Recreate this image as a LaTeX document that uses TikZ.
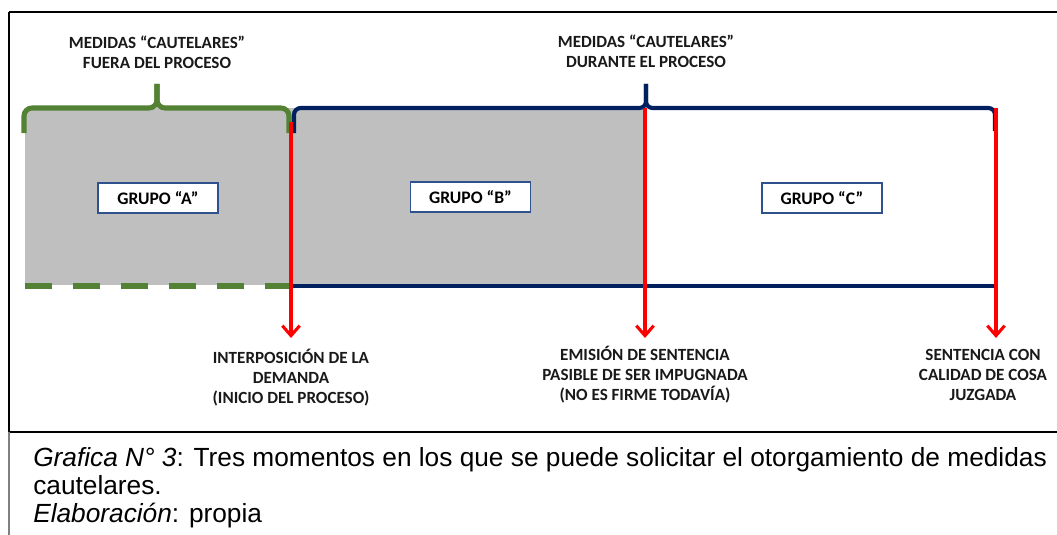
\documentclass[tikz,border=0pt]{standalone}
\usepackage{fontspec}
\setmainfont{Liberation Sans}
\newfontfamily\calib{Carlito}
\usetikzlibrary{arrows.meta}
\definecolor{brgreen}{RGB}{84,130,53}
\definecolor{brnavy}{RGB}{0,32,96}
\definecolor{boxnavy}{RGB}{47,82,143}
\definecolor{fillgray}{RGB}{191,191,191}
\definecolor{redline}{RGB}{255,0,0}
\begin{document}
\begin{tikzpicture}[x=0.75pt,y=-0.75pt,
  lbl/.style={font=\calib\bfseries\fontsize{12.8}{15}\selectfont, align=center, text=black!90, inner sep=0},
  grp/.style={draw=boxnavy, line width=0.9pt, fill=white, minimum width=90pt, minimum height=22.5pt, font=\calib\bfseries\fontsize{13.2}{14}\selectfont, inner sep=0},
  marker/.style={draw=redline, line width=2.3pt, -{Straight Barb[length=7.5pt,width=13pt]}},
  brg/.style={draw=brgreen, line width=3.8pt, rounded corners=6pt},
  brn/.style={draw=brnavy, line width=3.1pt, rounded corners=5pt},
  captxt/.style={anchor=base west, font=\fontsize{19.7}{22}\selectfont, inner sep=0}]

\useasboundingbox (0,0) rectangle (1057,535);
\fill[white] (0,0) rectangle (1057,535);

% frame
\draw[line width=1.1pt] (9,12) -- (1057,12);
\draw[line width=1.1pt] (9,12) -- (9,432);
\draw[line width=0.8pt] (9,432) -- (1057,432);
\draw[gray, line width=1pt] (9,432) -- (9,535);

% shaded region (groups A and B)
\fill[fillgray] (25,108) rectangle (645,285);

% braces
\draw[brg] (24,133) -- (24,108) -- (157,108) -- (157,84);
\draw[brg] (157,84) -- (157,108) -- (289,108) -- (289,133);
\draw[brn] (294,133) -- (294,108) -- (646,108) -- (646,84);
\draw[brn] (646,84) -- (646,108) -- (995,108) -- (995,131);

% bottom lines
\draw[brgreen, line width=3.8pt, dash pattern=on 20.25pt off 15.75pt] (25,286) -- (292,286);
\draw[brnavy, line width=3pt] (292,286) -- (996,286);

% red markers
\coordinate (r1s) at (291,122);
\coordinate (r1e) at (291,338);
\coordinate (r2s) at (645,108);
\coordinate (r2e) at (645,338);
\coordinate (r3s) at (996,108);
\coordinate (r3e) at (996,338);
\draw[marker] (r1s) -- (r1e);
\draw[marker] (r2s) -- (r2e);
\draw[marker] (r3s) -- (r3e);

% group boxes
\node[grp] (ga) at (158,198) {GRUPO “A”};
\node[grp] (gb) at (470.5,197) {GRUPO “B”};
\node[grp] (gc) at (822,198) {GRUPO “C”};

% labels
\node[lbl] (top1) at (157,52) {MEDIDAS “CAUTELARES”\\FUERA DEL PROCESO};
\node[lbl] (top2) at (646,51) {MEDIDAS “CAUTELARES”\\DURANTE EL PROCESO};
\node[lbl] (bot1) at (291,378) {INTERPOSICIÓN DE LA\\DEMANDA\\(INICIO DEL PROCESO)};
\node[lbl] (bot2) at (645,375) {EMISIÓN DE SENTENCIA\\PASIBLE DE SER IMPUGNADA\\(NO ES FIRME TODAVÍA)};
\node[lbl] (bot3) at (983,375) {SENTENCIA CON\\CALIDAD DE COSA\\JUZGADA};

% caption
\node[captxt] (cap1) at (33,466) {\textit{Grafica N° 3}: Tres momentos en los que se puede solicitar el otorgamiento de medidas};
\node[captxt] (cap2) at (33,494) {cautelares.};
\node[captxt] (cap3) at (33,522) {\textit{Elaboración}: propia};
\end{tikzpicture}
\end{document}
